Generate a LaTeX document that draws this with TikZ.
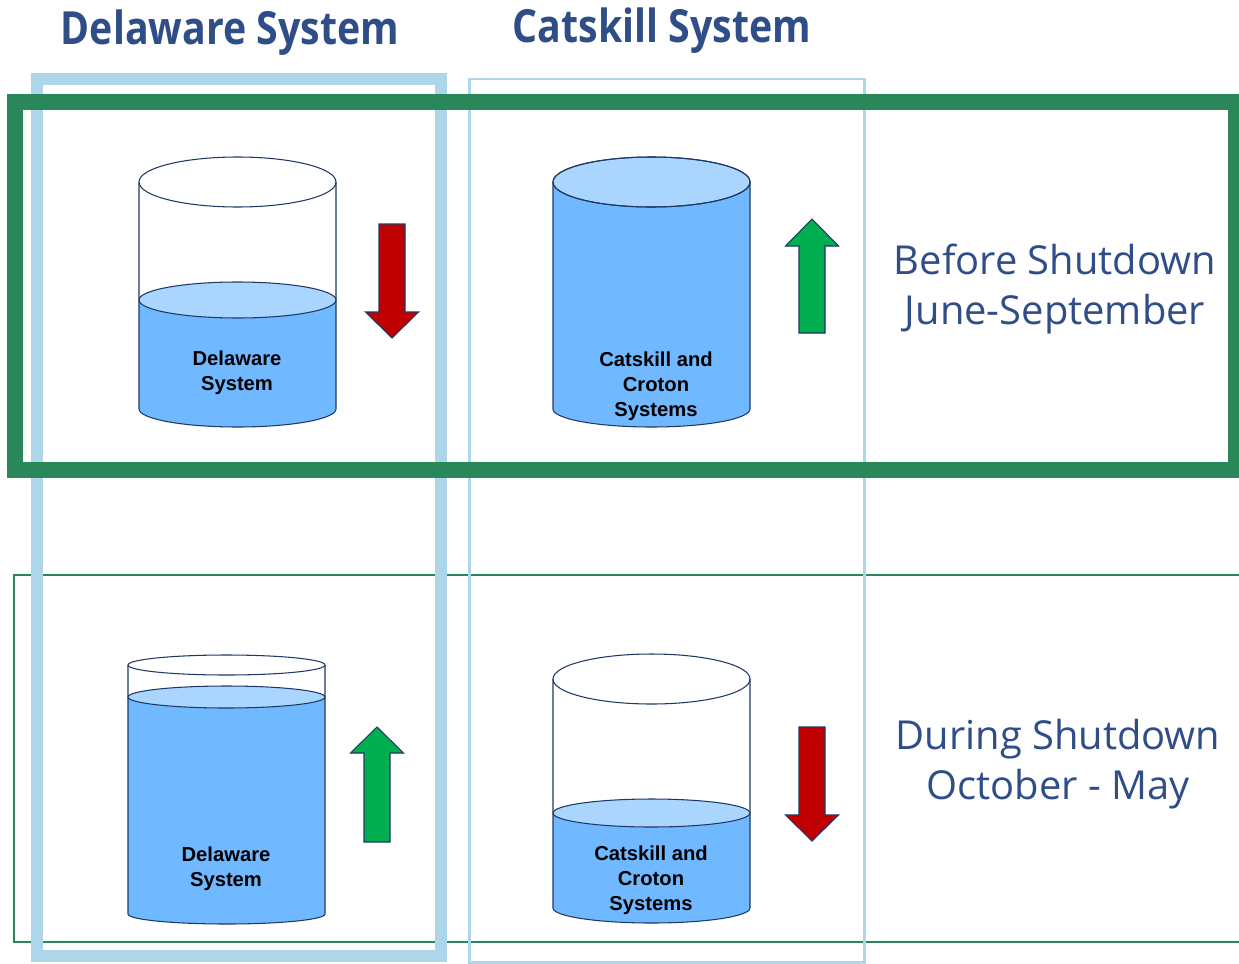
\documentclass[tikz,border=0pt]{standalone}
\usepackage{fontspec}
\setmainfont{Liberation Sans}
\newfontfamily\headfont[FakeStretch=0.86]{Open Sans}
\newfontfamily\rowfont{Open Sans}
\usetikzlibrary{positioning}
\definecolor{headblue}{RGB}{47,77,135}
\definecolor{framegreen}{RGB}{42,135,89}
\definecolor{frameblue}{RGB}{174,214,234}
\definecolor{waterblue}{RGB}{112,184,255}
\definecolor{surfblue}{RGB}{170,213,255}
\definecolor{tanknavy}{RGB}{31,56,100}
\definecolor{dropred}{RGB}{192,0,0}
\definecolor{risegreen}{RGB}{0,176,80}
\tikzset{
  tankline/.style={draw=tanknavy, line width=0.6pt},
  water/.style={fill=waterblue},
  surface/.style={fill=surfblue, tankline},
  tanktext/.style={font=\bfseries\fontsize{11.5}{14.2}\selectfont, align=center, inner sep=0pt},
}
\newcommand{\tank}[8]{%
  \pgfmathsetmacro\tankrx{(#2-#1)/2}
  \pgfmathsetmacro\tankcx{(#1+#2)/2}
  \fill[water] (#1,#5) -- (#1,#7) arc[start angle=180, end angle=0, x radius=\tankrx, y radius=#8] -- (#2,#5) -- cycle;
  \path[surface] (\tankcx,#5) ellipse[x radius=\tankrx, y radius=#6];
  \draw[tankline] (#1,#3) -- (#1,#7) arc[start angle=180, end angle=0, x radius=\tankrx, y radius=#8] -- (#2,#3);
  \draw[tankline] (\tankcx,#3) ellipse[x radius=\tankrx, y radius=#4];
}
\newcommand{\flowarrow}[5]{%
  \fill[#1, tankline] (#2-13,#3) -- (#2+13,#3) -- (#2+13,#4) -- (#2+26.5,#4) -- (#2,#5)
    -- (#2-26.5,#4) -- (#2-13,#4) -- cycle;
}

\begin{document}
\begin{tikzpicture}[
  x=0.02cm, y=-0.02cm,
  header/.style={font=\headfont\bfseries\fontsize{26}{30}\selectfont, text=headblue, inner sep=0pt},
  rowlabel/.style={font=\rowfont\fontsize{22.7}{28.3}\selectfont, text=headblue, align=center, inner sep=0pt},
  thinframe/.style={draw=framegreen, line width=1.2pt},
  thickframe/.style={draw=framegreen, line width=9pt},
]
  \clip (0,0) rectangle (1239,963);
  \fill[white] (0,0) rectangle (1239,963);

  \draw[thinframe] (14,575) rectangle (1260,942);
  \draw[draw=frameblue, line width=6.8pt] (37,79) rectangle (441,956);
  \draw[draw=frameblue, line width=1.7pt] (469,79) rectangle (864,962);

  \tank{139}{336}{182}{25}{300}{18}{409}{18}
  \tank{553}{750}{182}{25}{182}{25}{409}{18}
  \tank{128}{325}{665}{10}{697}{11}{914}{10}
  \tank{553}{750}{679}{25}{813}{14}{908}{15}

  \flowarrow{dropred}{392}{224}{312}{338}
  \flowarrow{risegreen}{812}{333}{246}{219}
  \flowarrow{risegreen}{377}{842}{753}{727}
  \flowarrow{dropred}{812}{727}{815}{841}

  \draw[thickframe] (15,102) rectangle (1236,470);

  \node[header] (delhead) at (230,33) {Delaware System};
  \node[header] (cathead) at (662,31) {Catskill System};

  \node[tanktext] (delbefore) at (237,373) {Delaware\\System};
  \node[tanktext] (catbefore) at (656,386) {Catskill and\\Croton\\Systems};
  \node[tanktext] (delduring) at (226,869) {Delaware\\System};
  \node[tanktext] (catduring) at (651,880) {Catskill and\\Croton\\Systems};

  \node[rowlabel] (before) at (1055,289) {Before Shutdown\\June-September};
  \node[rowlabel] (during) at (1058,764) {During Shutdown\\October - May};
\end{tikzpicture}
\end{document}
